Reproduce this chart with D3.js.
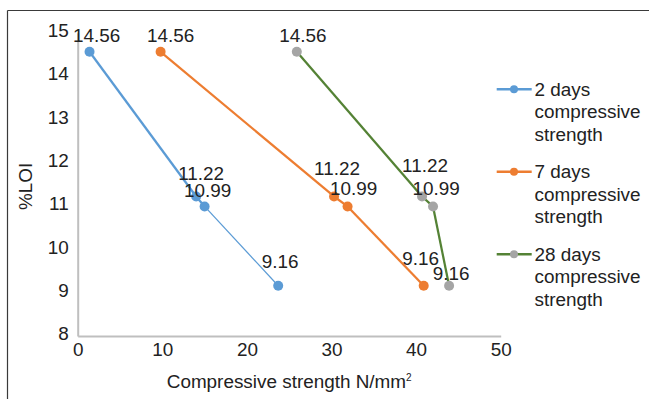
<!DOCTYPE html>
<html>
<head>
<meta charset="utf-8">
<script src="https://cdn.jsdelivr.net/npm/d3@7"></script>
<style>
  body { margin: 0; background: #fff; }
  svg text { font-family: "Liberation Sans", Arial, sans-serif; fill: #222; }
</style>
</head>
<body>
<svg id="chart" width="649" height="399"></svg>
<script>
// Data
const loiValues = [14.56, 11.22, 10.99, 9.16];
const strength2days = [1.4, 14.0, 15.0, 23.7];
const strength7days = [9.8, 30.3, 31.9, 40.9];
const strength28days = [25.9, 40.7, 42.0, 43.9];
const seriesNames = ['2 days compressive strength', '7 days compressive strength', '28 days compressive strength'];
const xTicks = [0, 10, 20, 30, 40, 50];
const yTicks = [8, 9, 10, 11, 12, 13, 14, 15];

const svg = d3.select('svg#chart');
const fontSize = '18.9px';
const plot = {left: 77.7, right: 500.7, top: 32.7, bottom: 336};

// Frame (only top and left visible)
svg.append('line').attr('x1', 7.5).attr('x2', 649).attr('y1', 10.5).attr('y2', 10.5)
  .attr('stroke', '#3a3a3a').attr('stroke-width', 1.2);
svg.append('line').attr('x1', 7.5).attr('x2', 7.5).attr('y1', 10.5).attr('y2', 399)
  .attr('stroke', '#3a3a3a').attr('stroke-width', 1.2);

const x = d3.scaleLinear().domain([0, 50]).range([plot.left, plot.right]);
const y = d3.scaleLinear().domain([8, 15]).range([plot.bottom, plot.top]);

// Axes
const xAxis = svg.append('g').attr('transform', `translate(0,${plot.bottom})`)
  .call(d3.axisBottom(x).tickValues(xTicks).tickFormat(d3.format('d')).tickSize(0).tickPadding(0));
xAxis.select('.domain').attr('stroke', '#bfbfbf').attr('stroke-width', 2);
xAxis.selectAll('text').attr('font-size', fontSize).attr('dy', '1.05em')
  .style('font-family', '"Liberation Sans", Arial, sans-serif').attr('fill', '#222');

const yAxis = svg.append('g').attr('transform', `translate(${plot.left},0)`)
  .call(d3.axisLeft(y).tickValues(yTicks).tickFormat(d3.format('d')).tickSize(0).tickPadding(9));
yAxis.select('.domain').attr('stroke', '#bfbfbf').attr('stroke-width', 2);
yAxis.selectAll('text').attr('font-size', fontSize).attr('dy', '0.2em')
  .style('font-family', '"Liberation Sans", Arial, sans-serif').attr('fill', '#222');

// Axis titles
const xTitle = svg.append('text').attr('x', (plot.left + plot.right) / 2).attr('y', 388)
  .attr('text-anchor', 'middle').attr('font-size', fontSize);
xTitle.append('tspan').text('Compressive strength N/mm');
xTitle.append('tspan').attr('font-size', '10px').attr('dy', '-0.75em').text('2');

svg.append('text').attr('transform', `translate(31.5,${(plot.top + plot.bottom) / 2 + 2}) rotate(-90)`)
  .attr('text-anchor', 'middle').attr('font-size', fontSize).text('%LOI');

// Series
const series = [
  {name: seriesNames[0], xs: strength2days, line: '#5b9bd5', marker: '#5b9bd5',
   widths: [2.25, 2.25, 1.25], nudge: [[7, -10], [5, -16.5], [3, -9.5], [2, -17.5]]},
  {name: seriesNames[1], xs: strength7days, line: '#ed7d31', marker: '#ed7d31',
   widths: [2.25, 2.25, 2.25], nudge: [[10, -10], [3, -21.5], [6, -11.5], [-3, -20.5]]},
  {name: seriesNames[2], xs: strength28days, line: '#548235', marker: '#a5a5a5',
   widths: [2.25, 2.25, 2.25], nudge: [[6, -10], [3, -24], [3, -11.5], [2, -5.7]]}
];

series.forEach(s => {
  const pts = s.xs.map((v, i) => ({x: v, y: loiValues[i]}));
  const g = svg.append('g');
  g.selectAll('line.seg').data(d3.pairs(pts)).join('line')
    .attr('x1', d => x(d[0].x)).attr('y1', d => y(d[0].y))
    .attr('x2', d => x(d[1].x)).attr('y2', d => y(d[1].y))
    .attr('stroke', s.line).attr('stroke-width', (d, i) => s.widths[i]);
  g.selectAll('circle').data(pts).join('circle')
    .attr('cx', d => x(d.x)).attr('cy', d => y(d.y)).attr('r', 5)
    .attr('fill', s.marker);
});

series.forEach(s => {
  const pts = s.xs.map((v, i) => ({x: v, y: loiValues[i]}));
  svg.append('g').selectAll('text').data(pts).join('text')
    .attr('x', (d, i) => x(d.x) + s.nudge[i][0])
    .attr('y', (d, i) => y(d.y) + s.nudge[i][1])
    .attr('text-anchor', 'middle').attr('font-size', fontSize)
    .text(d => d3.format('.2f')(d.y));
});

// Legend
const legend = svg.append('g');
series.forEach((s, i) => {
  const ly = 89.3 + i * 82.5;
  const item = legend.append('g').attr('transform', `translate(0,${ly})`);
  item.append('line').attr('x1', 496.7).attr('x2', 531.7).attr('stroke', s.line).attr('stroke-width', 2.5);
  item.append('circle').attr('cx', 514).attr('r', 4).attr('fill', s.marker);
  const words = s.name.split(' ');
  const lines = [words[0] + ' ' + words[1], words[2], words[3]];
  item.selectAll('text').data(lines).join('text')
    .attr('x', 534.5).attr('y', (d, j) => 6.3 + j * 22.5)
    .attr('font-size', fontSize).text(d => d);
});
</script>
</body>
</html>
